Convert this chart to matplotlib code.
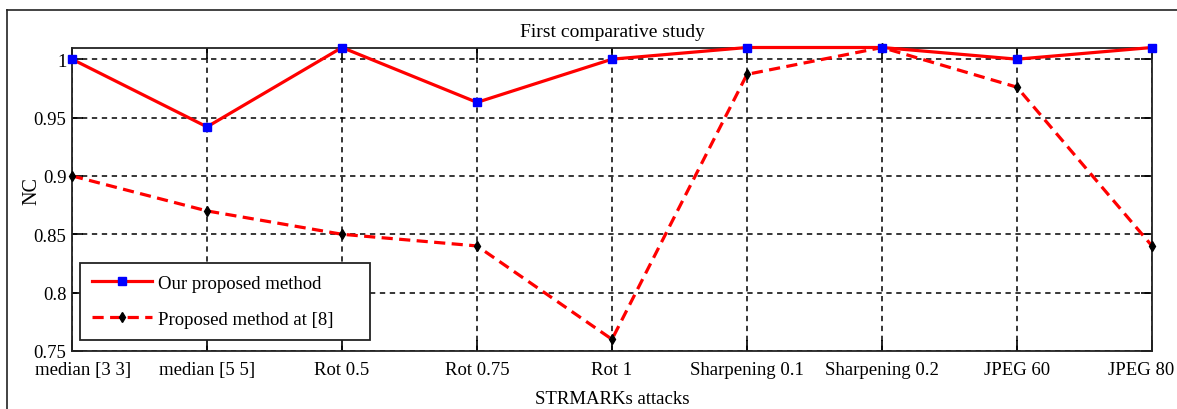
import numpy as np
import matplotlib
matplotlib.use("Agg")
import matplotlib.pyplot as plt
import matplotlib.transforms as mtransforms
from matplotlib.lines import Line2D

# --- DATA ---
attacks = ["median [3 3]", "median [5 5]", "Rot 0.5", "Rot 0.75", "Rot 1",
           "Sharpening 0.1", "Sharpening 0.2", "JPEG 60", "JPEG 80"]
nc_ours = [1.0, 0.942, 1.01, 0.963, 1.0, 1.01, 1.01, 1.0, 1.01]
nc_ref8 = [0.9, 0.87, 0.85, 0.84, 0.76, 0.987, 1.01, 0.976, 0.84]
y_ticks = [0.75, 0.8, 0.85, 0.9, 0.95, 1.0]
y_tick_labels = ["0.75", "0.8", "0.85", "0.9", "0.95", "1"]

plt.rcParams['font.family'] = ['Liberation Serif', 'DejaVu Serif']
plt.rcParams['font.size'] = 13.5

fig = plt.figure(figsize=(11.77, 4.10), dpi=100)
W, H = 1177, 410

# outer frame of the original figure (cut at right and bottom)
fig.add_artist(Line2D([7 / W, 1.0], [1 - 11 / H, 1 - 11 / H], color='#222222', lw=1.2))
fig.add_artist(Line2D([7 / W, 7 / W], [1 - 11 / H, 0.0], color='#222222', lw=1.2))

ax = fig.add_axes([72 / W, 1 - 352 / H, (1152 - 72) / W, (352 - 48.5) / H])

x = np.arange(1, len(attacks) + 1)
ax.plot(x, nc_ours, color='red', lw=2.3, marker='s', markersize=5.5,
        markerfacecolor='blue', markeredgecolor='blue', clip_on=False, zorder=4,
        label='Our proposed method')
ax.plot(x, nc_ref8, color='red', lw=2.3, ls=(0, (3.5, 2)), marker='d', markersize=5,
        markerfacecolor='black', markeredgecolor='black', clip_on=False, zorder=3,
        label='Proposed method at [8]')

ax.set_xlim(1, len(attacks))
ax.set_ylim(0.75, 1.01)
ax.set_xticks(x)
ax.set_xticklabels(attacks)
ax.set_yticks(y_ticks)
ax.set_yticklabels(y_tick_labels)

ax.tick_params(direction='in', length=8, width=1.2, top=True, right=True)
ax.tick_params(axis='x', pad=7)
ax.tick_params(axis='y', pad=4)
ax.grid(True, color='black', ls=(0, (3.5, 3)), lw=1.1)
for s in ax.spines.values():
    s.set_linewidth(1.3)
    s.set_color('#222222')

# end tick labels are pulled inward as in the original
labels = ax.get_xticklabels()
labels[0].set_transform(labels[0].get_transform() +
                        mtransforms.ScaledTranslation(11 / 100, 0, fig.dpi_scale_trans))
labels[-1].set_transform(labels[-1].get_transform() +
                         mtransforms.ScaledTranslation(-11 / 100, 0, fig.dpi_scale_trans))

ax.set_title('First comparative study', fontsize=14, pad=8)
ax.set_xlabel('STRMARKs attacks', labelpad=9)
ax.set_ylabel('NC', fontsize=14.5)
ax.yaxis.set_label_coords(-0.028, 0.53)

leg = ax.legend(loc='lower left', bbox_to_anchor=(8 / 1080, 11 / 303.5, 290 / 1080, 0.2),
                mode='expand', frameon=True,
                fancybox=False, edgecolor='#222222', framealpha=1,
                handlelength=3.2, handletextpad=0.3, borderpad=0.65,
                borderaxespad=0, labelspacing=1.0, fontsize=13.5)
leg.get_frame().set_linewidth(1.3)

fig.savefig('out.png', dpi=100)
